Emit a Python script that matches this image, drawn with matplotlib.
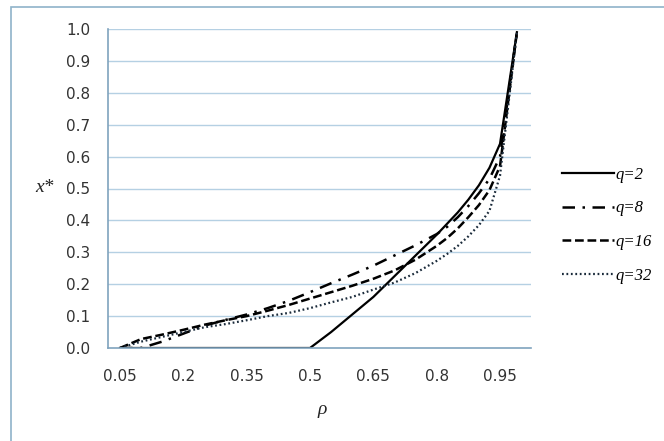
import matplotlib
matplotlib.use("Agg")
import matplotlib.pyplot as plt
from matplotlib.patches import Rectangle

# rho values and x*
rho = [0.05, 0.10, 0.15, 0.20, 0.25, 0.30, 0.35, 0.40, 0.45, 0.50,
       0.55, 0.60, 0.65, 0.70, 0.75, 0.80, 0.825, 0.85, 0.875, 0.90,
       0.925, 0.95, 0.99]
x_q2 = [0, 0, 0, 0, 0, 0, 0, 0, 0, 0,
        0.05, 0.105, 0.16, 0.225, 0.29, 0.355, 0.39, 0.425, 0.465, 0.51,
        0.565, 0.64, 0.99]
x_q8 = [0, 0, 0.02, 0.045, 0.07, 0.088, 0.105, 0.125, 0.148, 0.175,
        0.203, 0.23, 0.258, 0.29, 0.322, 0.357, 0.38, 0.41, 0.445, 0.485,
        0.53, 0.60, 0.99]
x_q16 = [0, 0.028, 0.042, 0.057, 0.073, 0.087, 0.10, 0.117, 0.135, 0.155,
         0.175, 0.195, 0.217, 0.243, 0.277, 0.32, 0.345, 0.375, 0.41, 0.448,
         0.495, 0.57, 0.99]
x_q32 = [0, 0.02, 0.035, 0.05, 0.065, 0.075, 0.087, 0.10, 0.11, 0.125,
         0.143, 0.16, 0.183, 0.205, 0.235, 0.273, 0.295, 0.32, 0.35, 0.385,
         0.43, 0.54, 0.99]

x_ticks = [0.05, 0.2, 0.35, 0.5, 0.65, 0.8, 0.95]
x_tick_labels = ["0.05", "0.2", "0.35", "0.5", "0.65", "0.8", "0.95"]
y_ticks = [0.0, 0.1, 0.2, 0.3, 0.4, 0.5, 0.6, 0.7, 0.8, 0.9, 1.0]

fig = plt.figure(figsize=(6.64, 4.41), dpi=100)
ax = fig.add_axes([108 / 664, 1 - 348 / 441, 423 / 664, 319 / 441])

ax.plot(rho, x_q2, color="black", lw=1.6, ls="-", label="q=2")
ax.plot(rho, x_q8, color="black", lw=1.8, ls=(0, (5, 3, 1, 3)), label="q=8")
ax.plot(rho, x_q16, color="black", lw=1.8, ls=(0, (3.5, 1.5)), label="q=16")
ax.plot(rho, x_q32, color="#1a2a3a", lw=1.6, ls=(0, (0.8, 1.2)), label="q=32")

ax.set_xlim(0.0216, 1.0234)
ax.set_ylim(0, 1.0)
ax.set_xticks(x_ticks)
ax.set_xticklabels(x_tick_labels)
ax.set_yticks(y_ticks)
ax.set_yticklabels([f"{v:.1f}" for v in y_ticks])
ax.tick_params(length=0, labelsize=11, colors="#333333")
ax.tick_params(axis="y", pad=13)
ax.tick_params(axis="x", pad=15)

for v in y_ticks[1:]:
    ax.axhline(v, color="#b5d0e3", lw=1.0, zorder=0)

for s in ["top", "right"]:
    ax.spines[s].set_visible(False)
for s in ["left", "bottom"]:
    ax.spines[s].set_color("#7fa3bd")
    ax.spines[s].set_linewidth(1.2)

fig.text(35 / 664, 1 - 188 / 441, "x*", fontsize=14, style="italic",
         family="Liberation Serif", va="center", ha="left", color="#222222")
fig.text(322 / 664, 1 - 410 / 441, "ρ", fontsize=14, style="italic",
         family="Liberation Serif", va="center", ha="center", color="#222222")

leg = fig.legend(loc="upper left", bbox_to_anchor=(547 / 664, 1 - 152 / 441),
                 frameon=False, handlelength=3.1, handletextpad=0.1,
                 labelspacing=1.05,
                 prop={"family": "Liberation Serif", "style": "italic", "size": 12})

# outer chart border, only top and left edges fall inside the image
fig.patches.append(Rectangle((11 / 664, -0.05), 1, 1.05 - 7 / 441, transform=fig.transFigure,
                             fill=False, edgecolor="#8fb3c9", lw=1.2))

fig.savefig("out.png", dpi=100)
